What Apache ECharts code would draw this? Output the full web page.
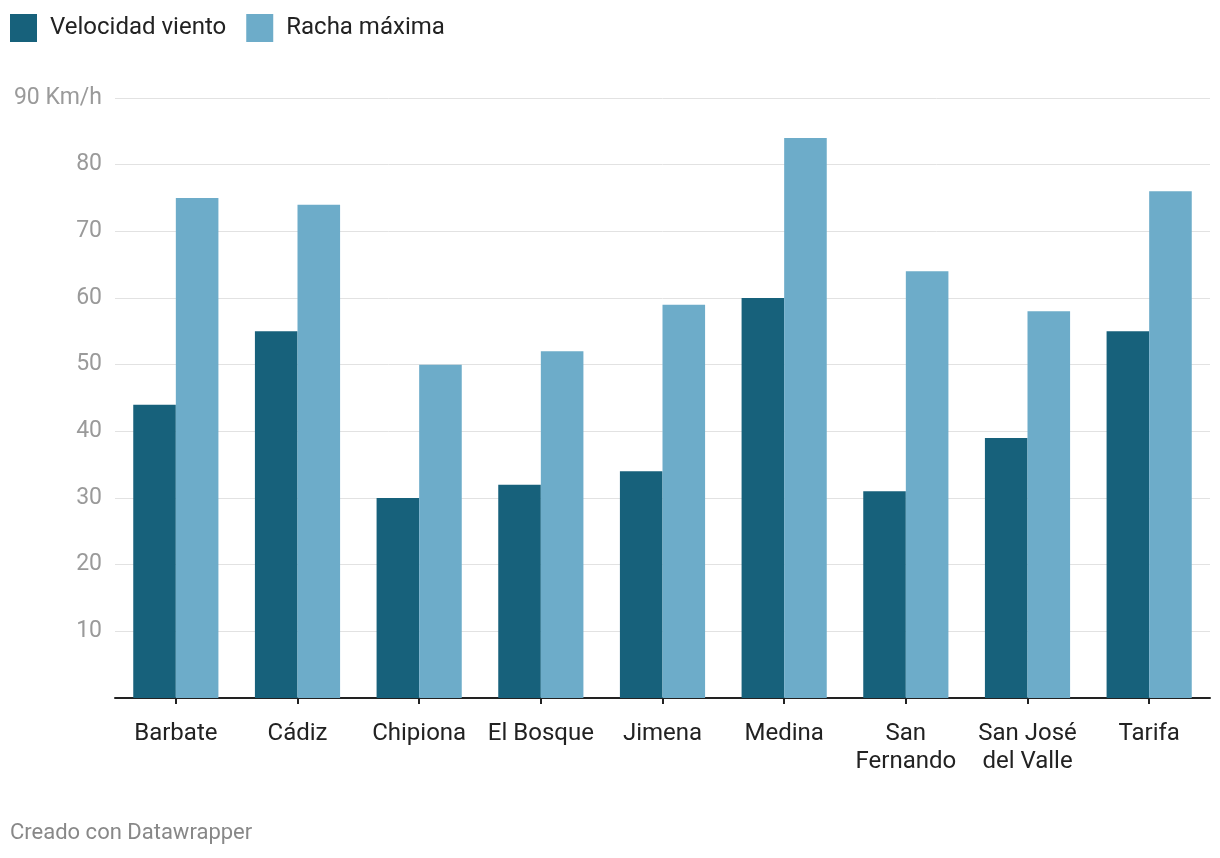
<!DOCTYPE html>
<html>
<head>
<meta charset="utf-8">
<script src="https://cdn.jsdelivr.net/npm/echarts@6/dist/echarts.min.js"></script>
<style>
html,body{margin:0;padding:0;background:#fff;}
#c{width:1220px;height:858px;}
</style>
</head>
<body>
<div id="c"></div>
<script>
const categories = ['Barbate', 'Cádiz', 'Chipiona', 'El Bosque', 'Jimena', 'Medina', 'San\nFernando', 'San José\ndel Valle', 'Tarifa'];
const velocidadViento = [44, 55, 30, 32, 34, 60, 31, 39, 55];
const rachaMaxima = [75, 74, 50, 52, 59, 84, 64, 58, 76];
const seriesNames = ['Velocidad viento', 'Racha máxima'];
const yTicks = { min: 0, max: 90, interval: 10, unit: ' Km/h' };

const chart = echarts.init(document.getElementById('c'), null, { renderer: 'canvas' });
const FONT = 'Roboto';
chart.setOption({
  animation: false,
  textStyle: { fontFamily: FONT },
  legend: {
    left: 5, top: 9,
    itemWidth: 27, itemHeight: 28, itemGap: 20,
    icon: 'rect',
    textStyle: { fontSize: 24, color: '#222', fontFamily: FONT, padding: [0, 0, 0, 8] },
    data: seriesNames
  },
  graphic: [{
    type: 'text', left: 10, top: 822,
    style: { text: 'Creado con Datawrapper', fontSize: 22, fill: '#888', fontFamily: FONT }
  }],
  grid: { left: 115, right: 10, top: 98, bottom: 160, containLabel: false },
  xAxis: {
    type: 'category',
    data: categories,
    axisLine: { lineStyle: { color: '#222', width: 2 } },
    axisTick: { show: true, alignWithLabel: true, length: 6, lineStyle: { color: '#222', width: 2 } },
    axisLabel: { fontSize: 24, color: '#222', margin: 22, lineHeight: 28, fontFamily: FONT, interval: 0 }
  },
  yAxis: {
    type: 'value',
    min: yTicks.min, max: yTicks.max, interval: yTicks.interval,
    axisLine: { show: false },
    axisTick: { show: false },
    splitLine: { lineStyle: { color: '#e2e2e2', width: 1 } },
    axisLabel: {
      fontSize: 23, color: '#9a9a9a', margin: 13, fontFamily: FONT,
      formatter: v => v === yTicks.min ? '' : (v === yTicks.max ? v + yTicks.unit : String(v))
    }
  },
  series: [
    { name: seriesNames[0], type: 'bar', data: velocidadViento, itemStyle: { color: '#17617b' }, barGap: '0%', barCategoryGap: '30%' },
    { name: seriesNames[1], type: 'bar', data: rachaMaxima, itemStyle: { color: '#6dacc9' }, barGap: '0%', barCategoryGap: '30%' }
  ]
});
</script>
</body>
</html>
